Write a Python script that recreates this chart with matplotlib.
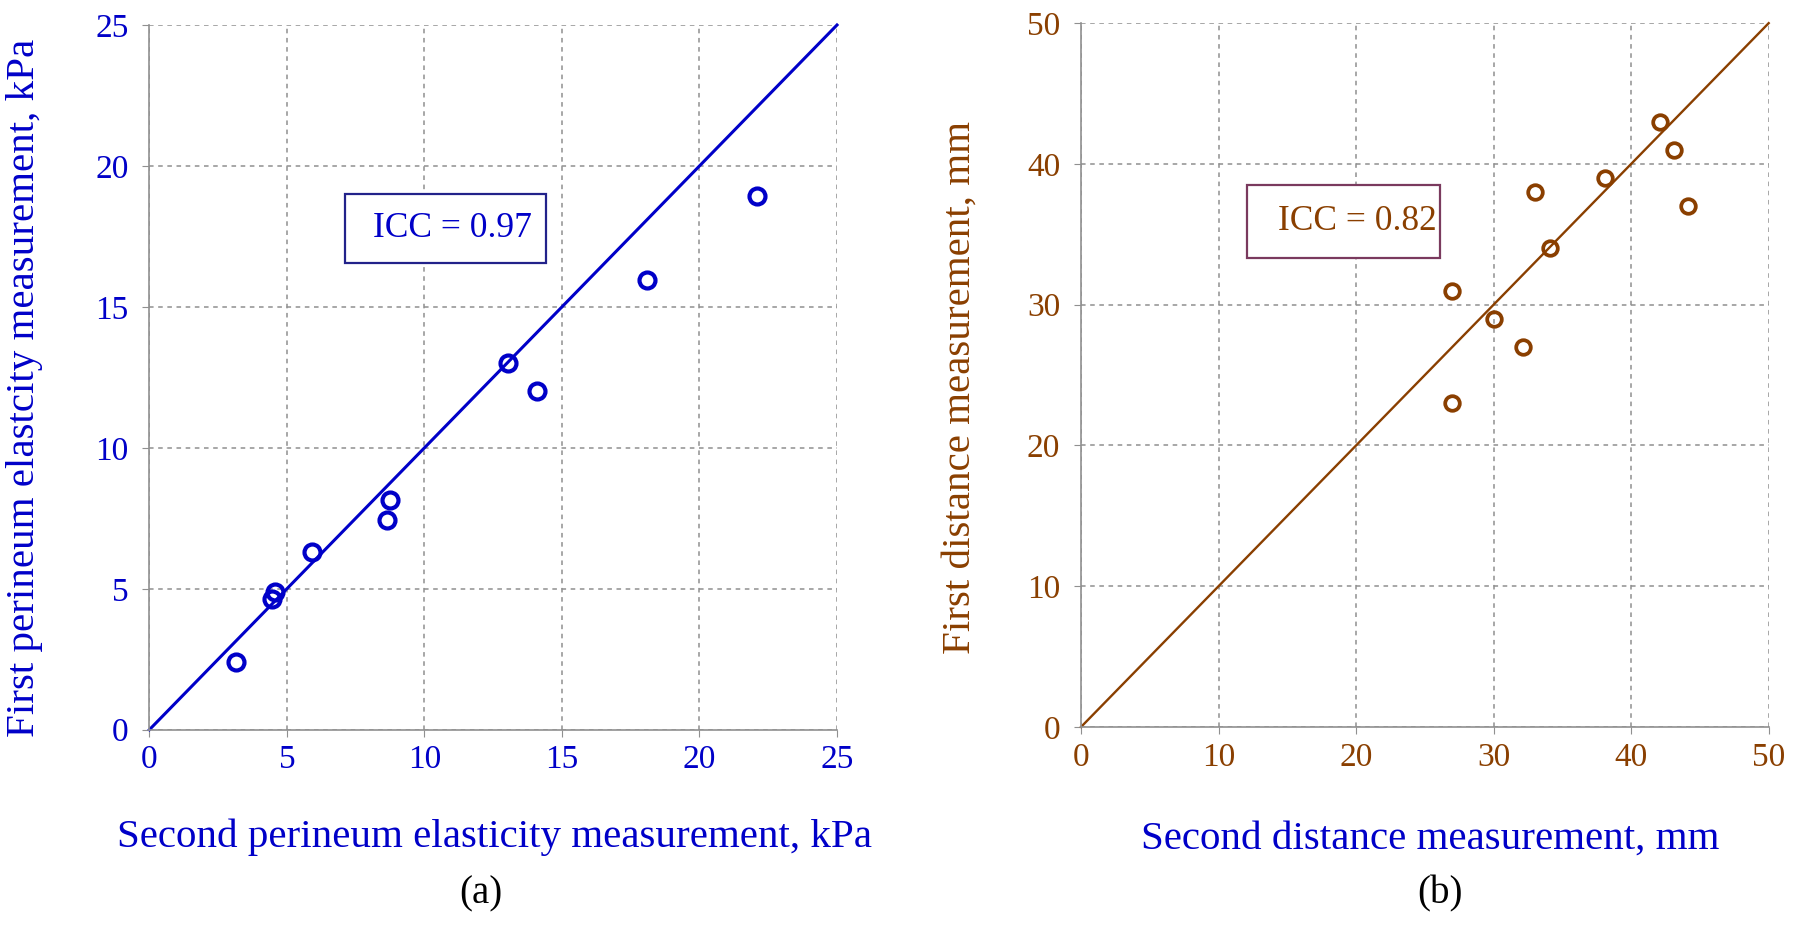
import numpy as np
import matplotlib.pyplot as plt
from matplotlib.patches import Rectangle

plt.rcParams['font.family'] = ['Liberation Serif', 'DejaVu Serif']

# panel (a): perineum elasticity, kPa
elast_second = [3.15, 4.45, 4.55, 5.9, 8.65, 8.75, 13.05, 14.1, 18.1, 22.1]
elast_first = [2.4, 4.65, 4.9, 6.3, 7.45, 8.15, 13.0, 12.0, 15.95, 18.95]
elast_icc = 0.97

# panel (b): distance, mm
dist_second = [27, 27, 30, 32.1, 33, 34.1, 38.1, 42.1, 43.1, 44.1]
dist_first = [31, 23, 29, 27, 38, 34, 39, 43, 41, 37]
dist_icc = 0.82

blue = '#0000c8'
brown = '#8a3f00'

fig = plt.figure(figsize=(18, 9.26), dpi=100)
ax1 = fig.add_axes([0.083, 0.212, 0.382, 0.761])
ax2 = fig.add_axes([0.6006, 0.215, 0.382, 0.760])


def style_axes(ax, lim, step, tick_color):
    ax.set_xlim(0, lim)
    ax.set_ylim(0, lim)
    ax.set_xticks(np.arange(0, lim + 1, step))
    ax.set_yticks(np.arange(0, lim + 1, step))
    ax.grid(True, color='#909090', linestyle=(0, (3, 3)), linewidth=1.1)
    for s in ['top', 'right']:
        ax.spines[s].set_visible(False)
    for s in ['left', 'bottom']:
        ax.spines[s].set_color('#909090')
        ax.spines[s].set_linewidth(1.2)
    ax.tick_params(direction='out', length=5, color='#909090',
                   labelsize=24, labelcolor=tick_color)
    ax.tick_params(axis='x', pad=6)
    ax.tick_params(axis='y', pad=10)
    ax.set_axisbelow(True)


def icc_box(ax, x0, y0, w, h, tx, label, tcolor, ecolor):
    ax.add_patch(Rectangle((x0, y0), w, h, fc='white', ec=ecolor, lw=1.6, zorder=3))
    ax.text(tx, y0 + h / 2, label, fontsize=25.5, color=tcolor,
            ha='left', va='center', zorder=4)


# (a)
style_axes(ax1, 25, 5, blue)
ax1.plot([0, 25], [0, 25], color=blue, linewidth=2.2, clip_on=False)
ax1.plot(elast_second, elast_first, 'o', mfc='none', mec=blue, ms=11.5, mew=3)
icc_box(ax1, 7.12, 16.54, 7.3, 2.45, 8.12, 'ICC = %.2f' % elast_icc, blue, '#22228a')
ax1.set_ylabel('First perineum elastcity measurement, kPa', fontsize=29.5, color=blue, va='center')
ax1.yaxis.set_label_coords(-0.181, 0.485)
ax1.set_xlabel('Second perineum elasticity measurement, kPa', fontsize=29.5, color=blue, va='center')
ax1.xaxis.set_label_coords(0.502, -0.153)
fig.text(0.267, 0.035, '(a)', fontsize=28, ha='center', va='center')

# (b)
style_axes(ax2, 50, 10, brown)
ax2.plot([0, 50], [0, 50], color=brown, linewidth=1.7, clip_on=False)
ax2.plot(dist_second, dist_first, 'o', mfc='none', mec=brown, ms=10.5, mew=2.7)
icc_box(ax2, 12.1, 33.35, 14.0, 5.15, 14.3, 'ICC = %.2f' % dist_icc, brown, '#7a3a5e')
ax2.set_ylabel('First distance measurement, mm', fontsize=29.5, color=brown, va='center')
ax2.yaxis.set_label_coords(-0.176, 0.482)
ax2.set_xlabel('Second distance measurement, mm', fontsize=29.5, color=blue, va='center')
ax2.xaxis.set_label_coords(0.508, -0.160)
fig.text(0.80, 0.035, '(b)', fontsize=28, ha='center', va='center')

fig.savefig('out.png', dpi=100, facecolor='white')
